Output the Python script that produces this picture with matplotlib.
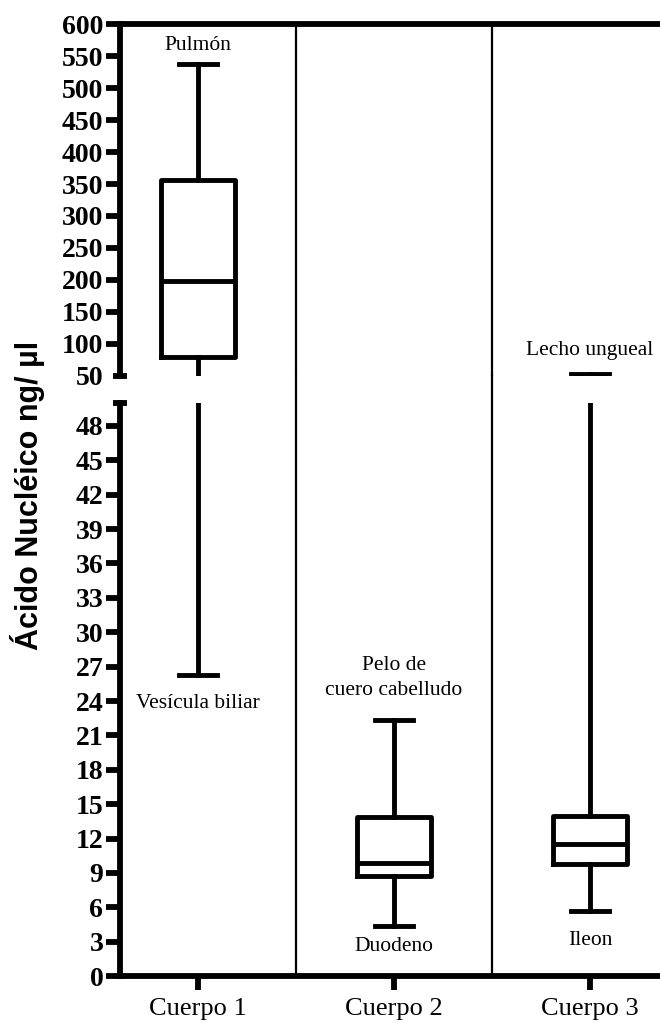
import matplotlib
matplotlib.use('Agg')
import matplotlib.pyplot as plt
import numpy as np

# datos
cuerpos = ['Cuerpo 1', 'Cuerpo 2', 'Cuerpo 3']
whis_bajo = [26.3, 4.4, 5.7]
q1 = [80, 8.7, 9.8]
mediana = [199, 9.9, 11.5]
q3 = [356, 13.9, 14.0]
whis_alto = [537, 22.3, 52.5]

ticks_arriba = list(range(50, 601, 50))
ticks_abajo = list(range(0, 49, 3))

serif = 'Liberation Serif'
sans = 'Liberation Sans'

fig = plt.figure(figsize=(6.6, 10.23), dpi=100)
ax_top = fig.add_axes([0.1818, 0.6325, 0.8182, 0.344])
ax_bot = fig.add_axes([0.1818, 0.0459, 0.8182, 0.5601])

pos = [1, 2, 3]
stats = []
for i in range(3):
    stats.append({'whislo': whis_bajo[i], 'q1': q1[i], 'med': mediana[i],
                  'q3': q3[i], 'whishi': whis_alto[i], 'fliers': []})

lw = 3.5
for ax in (ax_top, ax_bot):
    ax.bxp(stats, positions=pos, widths=0.38, capwidths=0.19, showfliers=False,
           boxprops=dict(linewidth=lw, color='black', solid_joinstyle='round'),
           medianprops=dict(linewidth=lw, color='black'),
           whiskerprops=dict(linewidth=lw, color='black'),
           capprops=dict(linewidth=lw, color='black'))
    ax.set_xlim(0.602, 3.357)
    ax.spines['right'].set_visible(False)
    for s in ('left', 'top', 'bottom'):
        ax.spines[s].set_linewidth(4.2)
    ax.tick_params(axis='y', direction='out', length=10, width=4.2, pad=2)

ax_top.set_ylim(50, 600)
ax_bot.set_ylim(0, 50)
ax_top.spines['bottom'].set_visible(False)
ax_bot.spines['top'].set_visible(False)

ax_top.set_yticks(ticks_arriba)
ax_top.set_yticklabels([str(t) for t in ticks_arriba], fontfamily=serif,
                       fontweight='bold', fontsize=20)
ax_top.yaxis.get_major_ticks()[0].tick1line.set_visible(False)
ax_top.set_xticks([])

ax_bot.set_yticks(ticks_abajo)
ax_bot.set_yticklabels([str(t) for t in ticks_abajo], fontfamily=serif,
                       fontweight='bold', fontsize=20)
ax_bot.set_xticks(pos)
ax_bot.set_xticklabels(cuerpos, fontfamily=serif, fontsize=19)
ax_bot.tick_params(axis='x', direction='out', length=10, width=4.2, pad=6)

# marcas del corte
ax_top.plot([-0.013, 0.013], [0, 0], transform=ax_top.transAxes, color='black',
            lw=4.2, clip_on=False, solid_capstyle='butt')
ax_bot.plot([-0.013, 0.013], [1, 1], transform=ax_bot.transAxes, color='black',
            lw=4.2, clip_on=False, solid_capstyle='butt')

# lineas divisorias
gap = 27 / 573
for xv in (1.5, 2.5):
    ax_top.axvline(xv, color='black', lw=1.6)
    ax_bot.axvline(xv, ymin=0, ymax=1 + gap, color='black', lw=1.6, clip_on=False)

# etiquetas de tejidos
tsize = 15.5
ax_top.text(1, 567, 'Pulmón', ha='center', va='center', fontfamily=serif, fontsize=tsize)
ax_bot.text(1, 23.8, 'Vesícula biliar', ha='center', va='center', fontfamily=serif, fontsize=tsize)
ax_bot.text(2, 26.0, 'Pelo de\ncuero cabelludo', ha='center', va='center',
            fontfamily=serif, fontsize=tsize, linespacing=1.4)
ax_bot.text(2, 2.6, 'Duodeno', ha='center', va='center', fontfamily=serif, fontsize=tsize)
ax_top.text(3, 90, 'Lecho ungueal', ha='center', va='center', fontfamily=serif, fontsize=tsize)
ax_bot.text(3, 3.1, 'Ileon', ha='center', va='center', fontfamily=serif, fontsize=tsize)

fig.text(0.041, 0.516, 'Ácido Nucléico ng/ µl', rotation=90, ha='center', va='center',
         fontfamily=sans, fontweight='bold', fontsize=22)

fig.savefig('out.png', dpi=100)
